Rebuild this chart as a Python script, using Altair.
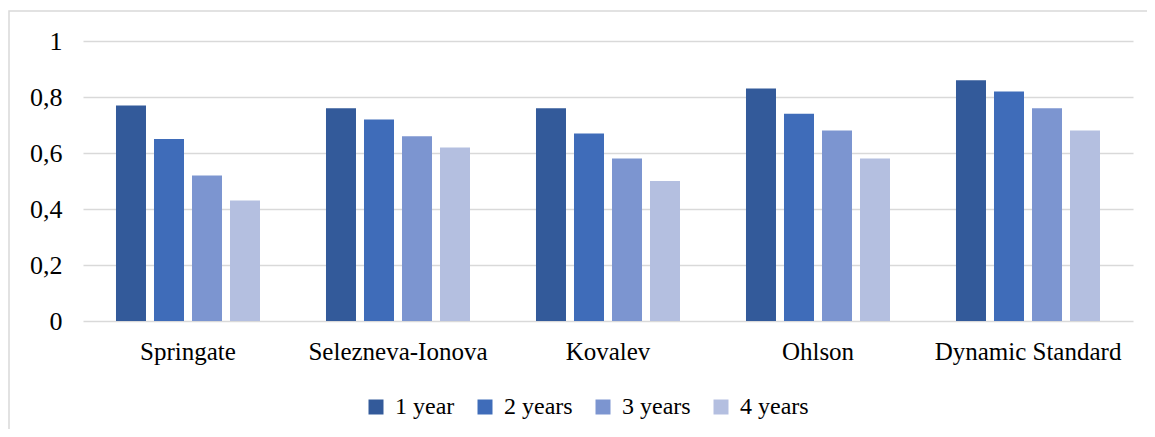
import altair as alt
import pandas as pd

categories = ["Springate", "Selezneva-Ionova", "Kovalev", "Ohlson", "Dynamic Standard"]
series = ["1 year", "2 years", "3 years", "4 years"]
values = {
    "1 year":  [0.77, 0.76, 0.76, 0.83, 0.86],
    "2 years": [0.65, 0.72, 0.67, 0.74, 0.82],
    "3 years": [0.52, 0.66, 0.58, 0.68, 0.76],
    "4 years": [0.43, 0.62, 0.50, 0.58, 0.68],
}
colors = ["#335A9A", "#3F6CB9", "#7C95D0", "#B4BFE0"]

rows = []
for s in series:
    for c, v in zip(categories, values[s]):
        rows.append({"model": c, "period": s, "value": v})
df = pd.DataFrame(rows)

FONT = "Liberation Serif"

bars = alt.Chart(df).mark_bar().encode(
    x=alt.X("model:N", sort=categories, title=None,
            scale=alt.Scale(paddingInner=0, paddingOuter=0),
            axis=alt.Axis(labelAngle=0, domain=False, ticks=False, labelPadding=18,
                          labelFont=FONT, labelFontSize=25, labelColor="#000000",
                          labelLimit=400)),
    xOffset=alt.XOffset("period:N", sort=series,
                        scale=alt.Scale(paddingInner=0.2105, paddingOuter=0.868)),
    y=alt.Y("value:Q", title=None,
            scale=alt.Scale(domain=[0, 1]),
            axis=alt.Axis(values=[0, 0.2, 0.4, 0.6, 0.8, 1.0], domain=False, ticks=False,
                          labelPadding=21, gridColor="#D9D9D9", gridWidth=1.5,
                          labelFont=FONT, labelFontSize=26, labelColor="#000000",
                          labelExpr="replace(format(datum.value, '.1~f'), '.', ',')")),
    color=alt.Color("period:N", sort=series,
                    scale=alt.Scale(domain=series, range=colors),
                    legend=alt.Legend(title=None, orient="none", legendX=281, legendY=354,
                                      direction="horizontal", columns=4, padding=0,
                                      symbolType="square", symbolSize=225,
                                      symbolStrokeWidth=0, labelOffset=7,
                                      labelFont=FONT, labelFontSize=24,
                                      labelColor="#000000", labelLimit=300,
                                      columnPadding=18)),
)

border = alt.Chart(pd.DataFrame({"a": [0]})).mark_rect(
    fill=None, stroke="#D9D9D9", strokeWidth=1.5
).encode(
    x=alt.value(-74), x2=alt.value(1200), y=alt.value(-30), y2=alt.value(500)
)

chart = (
    alt.layer(border, bars)
    .properties(
        width=1050, height=280,
        autosize=alt.AutoSizeParams(type="none"),
        padding={"left": 75, "top": 33, "right": 14, "bottom": 108},
    )
    .configure(background="#FFFFFF", font=FONT)
    .configure_view(stroke=None)
)

chart.save("out.html", embed_options={"renderer": "svg", "actions": False})
